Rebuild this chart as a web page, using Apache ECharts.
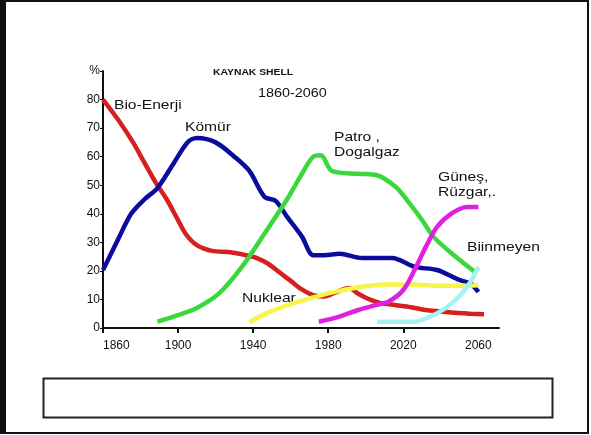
<!DOCTYPE html>
<html>
<head>
<meta charset="utf-8">
<script src="https://cdn.jsdelivr.net/npm/echarts@6/dist/echarts.min.js"></script>
<style>
  html, body { margin: 0; padding: 0; background: #fff; }
  #chart { width: 591px; height: 435px; }
</style>
</head>
<body>
<div id="chart"></div>
<script>
// eksen etiketleri
const xTicks = [1860, 1900, 1940, 1980, 2020, 2060];

// seriler: [yil, %]
const bioEnerji = [[1860, 80], [1868, 73], [1876, 65], [1882, 58], [1888, 51], [1894, 45], [1899, 39], [1904, 33], [1910, 29], [1918, 27], [1928, 26.5], [1936, 25.5], [1942, 24.5], [1948, 22.5], [1954, 19.5], [1960, 16.5], [1966, 13.5], [1972, 11.5], [1978, 11], [1984, 12.5], [1991, 14], [1996, 12], [2002, 10], [2008, 8.7], [2016, 8], [2024, 7.3], [2032, 6.3], [2040, 5.8], [2048, 5.3], [2056, 5], [2063, 4.8]];
const komur = [[1860, 20.3], [1868, 31], [1875, 40], [1882, 45], [1889, 49], [1897, 57], [1905, 65], [1910, 66.5], [1920, 65], [1930, 60], [1938, 55], [1946, 46], [1952, 44.5], [1958, 39], [1966, 32], [1972, 25.5], [1978, 25.5], [1986, 26], [1998, 24.5], [2014, 24.5], [2026, 21.4], [2038, 20.3], [2050, 16.8], [2056, 15.5], [2060, 12.6]];
const petroDogalgaz = [[1889, 2.2], [1900, 4.5], [1910, 7], [1922, 12.2], [1934, 21.4], [1946, 33], [1958, 45], [1966, 54], [1972, 60], [1976, 60.5], [1982, 55], [1996, 54], [2006, 53.5], [2016, 49.4], [2022, 44.8], [2030, 37.8], [2036, 32], [2046, 26], [2059, 19.2]];
const nuklear = [[1938, 2], [1945, 4.5], [1954, 7], [1962, 8.8], [1970, 10.3], [1978, 11.8], [1986, 13], [1994, 14], [2002, 14.8], [2012, 15.2], [2025, 15.2], [2040, 14.8], [2050, 14.8], [2060, 15]];
const gunesRuzgar = [[1975, 2.2], [1986, 4], [1996, 6.3], [2005, 8], [2012, 9.2], [2020, 13.3], [2026, 20.3], [2032, 28.4], [2038, 35.4], [2046, 40.2], [2054, 42.4], [2060, 42.4]];
const bilinmeyen = [[2006, 2.2], [2016, 2.2], [2026, 2.2], [2038, 5.2], [2046, 8.7], [2054, 14.4], [2060, 21.4]];

const chart = echarts.init(document.getElementById('chart'));

function line(name, data, color) {
  return {
    name: name,
    type: 'line',
    data: data,
    smooth: 0.3,
    symbol: 'none',
    lineStyle: { color: color, width: 4.5 },
    silent: true
  };
}

// resimdeki yazilar yatayda biraz genis
function txt(x, y, text, size, bold, sx) {
  return {
    type: 'text',
    x: x,
    y: y,
    scaleX: sx || 1.2,
    style: {
      text: text,
      fill: '#111',
      lineHeight: 15,
      font: (bold ? 'bold ' : '') + size + 'px "Liberation Sans", Arial, sans-serif'
    }
  };
}

const option = {
  animation: false,
  backgroundColor: '#fff',
  grid: { left: 103, right: 92, top: 71, bottom: 107 },
  xAxis: {
    type: 'value',
    min: 1860,
    max: 2071,
    interval: 40,
    splitLine: { show: false },
    axisLine: { lineStyle: { color: '#111', width: 2 } },
    axisTick: { length: 5, lineStyle: { color: '#111', width: 2 }, customValues: [1860, 1900, 1940, 1980, 2020] },
    axisLabel: {
      customValues: xTicks,
      color: '#111',
      fontSize: 12,
      fontFamily: 'Liberation Sans',
      margin: 12,
      alignMinLabel: 'left',
      formatter: v => (v > 2060 ? '' : String(v))
    }
  },
  yAxis: {
    type: 'value',
    min: 0,
    max: 90,
    interval: 10,
    splitLine: { show: false },
    axisLine: { lineStyle: { color: '#111', width: 2 } },
    axisTick: { length: 3, lineStyle: { color: '#111', width: 1 } },
    axisLabel: {
      color: '#111',
      fontSize: 12,
      fontFamily: 'Liberation Sans',
      margin: 3,
      formatter: v => (v === 90 ? '%' : String(v))
    }
  },
  series: [
    line('Bio-Enerji', bioEnerji, '#d61f1f'),
    line('Kömür', komur, '#0c0c9c'),
    line('Petro, Dogalgaz', petroDogalgaz, '#3ad83a'),
    line('Nuklear', nuklear, '#f6f64a'),
    line('Güneş, Rüzgar', gunesRuzgar, '#e020e0'),
    line('Bilinmeyen', bilinmeyen, '#a6f2f2')
  ],
  graphic: [
    // cerceve
    { type: 'rect', shape: { x: 1, y: 1, width: 587, height: 432 }, style: { fill: 'none', stroke: '#111', lineWidth: 2 } },
    { type: 'rect', shape: { x: 2, y: 1, width: 4, height: 433 }, style: { fill: '#111' } },
    // alt kutu
    { type: 'rect', shape: { x: 43.5, y: 378.5, width: 509, height: 39 }, style: { fill: '#fff', stroke: '#222', lineWidth: 2 } },
    txt(213, 65, 'KAYNAK SHELL', 9, true, 1.15),
    txt(258, 86, '1860-2060', 12, false),
    txt(114, 98, 'Bio-Enerji', 13, false),
    txt(185, 120, 'Kömür', 13, false),
    txt(334, 130, 'Patro ,\nDogalgaz', 13, false),
    txt(438, 170, 'Güneş,\nRüzgar,.', 13, false),
    txt(467, 240, 'Biinmeyen', 13, false),
    txt(242, 291, 'Nuklear', 13, false)
  ]
};

chart.setOption(option);
</script>
</body>
</html>
